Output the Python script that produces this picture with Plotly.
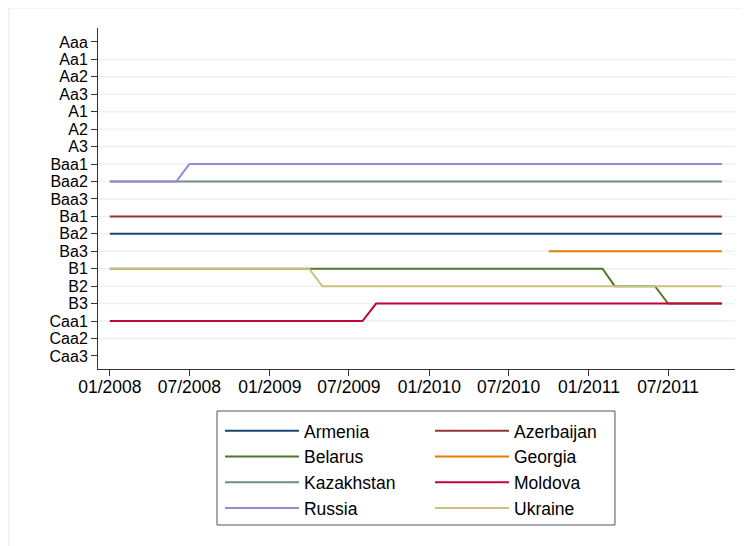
import plotly.graph_objects as go

# Moody's rating scale, top (best) to bottom
ratings = ["Aaa", "Aa1", "Aa2", "Aa3", "A1", "A2", "A3",
           "Baa1", "Baa2", "Baa3", "Ba1", "Ba2", "Ba3",
           "B1", "B2", "B3", "Caa1", "Caa2", "Caa3"]
rank = {r: len(ratings) - 1 - i for i, r in enumerate(ratings)}

# monthly series, given by the months where the rating path bends
countries = ["Armenia", "Azerbaijan", "Belarus", "Georgia",
             "Kazakhstan", "Moldova", "Russia", "Ukraine"]
armenia_dates = ["2008-01-01", "2011-11-01"]
armenia_rating = ["Ba2", "Ba2"]
azerbaijan_dates = ["2008-01-01", "2011-11-01"]
azerbaijan_rating = ["Ba1", "Ba1"]
belarus_dates = ["2008-01-01", "2011-02-01", "2011-03-01", "2011-06-01", "2011-07-01", "2011-11-01"]
belarus_rating = ["B1", "B1", "B2", "B2", "B3", "B3"]
georgia_dates = ["2010-10-01", "2011-11-01"]
georgia_rating = ["Ba3", "Ba3"]
kazakhstan_dates = ["2008-01-01", "2011-11-01"]
kazakhstan_rating = ["Baa2", "Baa2"]
moldova_dates = ["2008-01-01", "2009-08-01", "2009-09-01", "2011-11-01"]
moldova_rating = ["Caa1", "Caa1", "B3", "B3"]
russia_dates = ["2008-01-01", "2008-06-01", "2008-07-01", "2011-11-01"]
russia_rating = ["Baa2", "Baa2", "Baa1", "Baa1"]
ukraine_dates = ["2008-01-01", "2009-04-01", "2009-05-01", "2011-11-01"]
ukraine_rating = ["B1", "B1", "B2", "B2"]

series_dates = [armenia_dates, azerbaijan_dates, belarus_dates, georgia_dates,
                kazakhstan_dates, moldova_dates, russia_dates, ukraine_dates]
series_rating = [armenia_rating, azerbaijan_rating, belarus_rating, georgia_rating,
                 kazakhstan_rating, moldova_rating, russia_rating, ukraine_rating]
colors = ["#1a476f", "#90353b", "#55752f", "#e37e00",
          "#6e8e84", "#c10534", "#938dd2", "#cac27e"]
legend_column = ["legend", "legend2", "legend", "legend2",
                 "legend", "legend2", "legend", "legend2"]

xtick_vals = ["2008-01-01", "2008-07-01", "2009-01-01", "2009-07-01",
              "2010-01-01", "2010-07-01", "2011-01-01", "2011-07-01"]
xtick_text = ["01/2008", "07/2008", "01/2009", "07/2009",
              "01/2010", "07/2010", "01/2011", "07/2011"]

FONT = "Liberation Sans, Arial, sans-serif"
fig = go.Figure()
for name, d, r, c, lg in zip(countries, series_dates, series_rating, colors, legend_column):
    fig.add_trace(go.Scatter(x=d, y=[rank[v] for v in r], mode="lines", name=name,
                             line=dict(color=c, width=2), legend=lg))

# grid lines (Stata omits them at the outermost labels)
for r in ratings[1:-1]:
    fig.add_shape(type="line", xref="paper", x0=0, x1=1, yref="y", y0=rank[r], y1=rank[r],
                  line=dict(color="#eaf2f3", width=1.5), layer="below")

# outer graph-region frame
fig.add_shape(type="rect", xref="paper", yref="paper",
              x0=-0.1397, x1=1.1, y0=-0.6, y1=1.0587,
              line=dict(color="#eaf2f3", width=1.5), layer="below")
# legend box
fig.add_shape(type="rect", xref="paper", yref="paper",
              x0=0.1868, x1=0.8116, y0=-0.4575, y1=-0.1232,
              line=dict(color="#555555", width=1), fillcolor="white", layer="below")

leg_common = dict(orientation="v", y=-0.129, xanchor="left", yanchor="top",
                  borderwidth=0, bgcolor="rgba(0,0,0,0)", itemwidth=74,
                  font=dict(size=17.5), traceorder="normal", tracegroupgap=0)
fig.update_layout(
    width=741, height=538,
    margin=dict(l=90, r=14, t=20, b=177),
    paper_bgcolor="white", plot_bgcolor="white",
    font=dict(family=FONT, size=17.5, color="#000000"),
    showlegend=True,
    legend=dict(x=0.1915, **leg_common),
    legend2=dict(x=0.5212, **leg_common),
)
fig.update_xaxes(range=["2007-12-05", "2011-12-01"], tickvals=xtick_vals, ticktext=xtick_text,
                 showgrid=False, zeroline=False, showline=True, linecolor="#333333", linewidth=1,
                 ticks="outside", ticklen=6, tickcolor="#333333", tickfont=dict(size=17.5),
                 ticklabelstandoff=-4)
fig.update_yaxes(range=[-0.75, 18.8], tickvals=[rank[r] for r in ratings], ticktext=ratings,
                 showgrid=False, zeroline=False, showline=True, linecolor="#333333", linewidth=1,
                 ticks="outside", ticklen=6, tickcolor="#333333", tickfont=dict(size=16))

fig.write_html("out.html")
